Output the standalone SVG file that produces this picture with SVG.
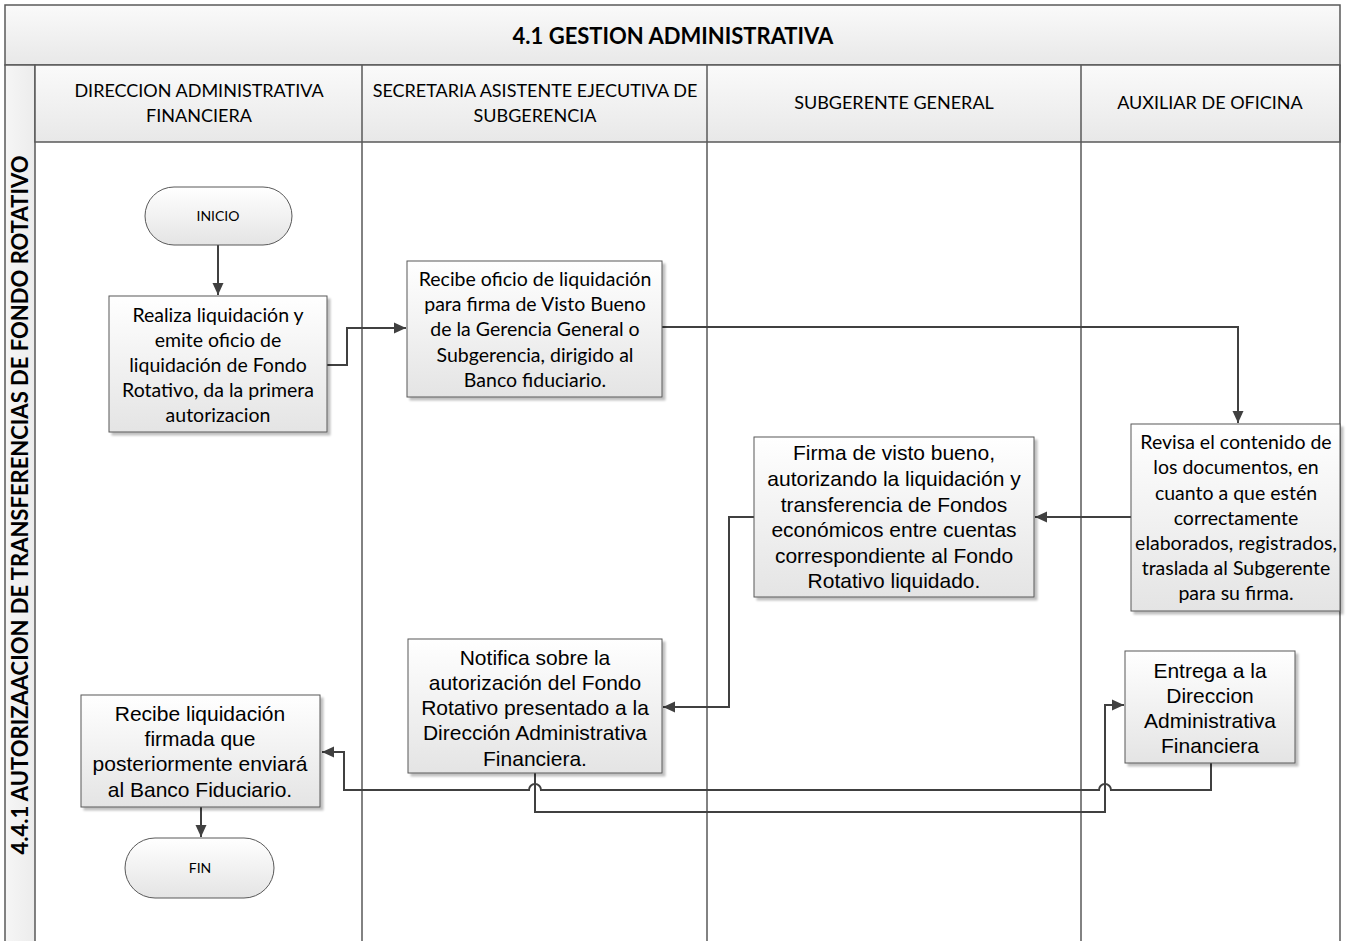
<svg xmlns="http://www.w3.org/2000/svg" width="1346" height="941" viewBox="0 0 1346 941">
<defs>
<linearGradient id="gbox" x1="0" y1="0" x2="0" y2="1">
<stop offset="0" stop-color="#ffffff"/>
<stop offset="1" stop-color="#e4e4e4"/>
</linearGradient>
<linearGradient id="ghead" x1="0" y1="0" x2="0" y2="1">
<stop offset="0" stop-color="#fafafa"/>
<stop offset="1" stop-color="#e8e8e8"/>
</linearGradient>
<linearGradient id="gside" x1="0" y1="0" x2="1" y2="0">
<stop offset="0" stop-color="#f6f6f6"/>
<stop offset="1" stop-color="#ececec"/>
</linearGradient>
<marker id="arr" viewBox="0 0 12 12" refX="12" refY="6" markerWidth="12" markerHeight="12" markerUnits="userSpaceOnUse" orient="auto">
<path d="M0,0.5 L12,6 L0,11.5 z" fill="#404040"/>
</marker>
<filter id="sh" x="-10%" y="-10%" width="130%" height="130%">
<feOffset dx="3" dy="3" in="SourceAlpha" result="o"/>
<feGaussianBlur in="o" stdDeviation="1.2" result="b"/>
<feComponentTransfer in="b" result="c"><feFuncA type="linear" slope="0.25"/></feComponentTransfer>
<feMerge><feMergeNode in="c"/><feMergeNode in="SourceGraphic"/></feMerge>
</filter>
</defs>
<style>
.lane{fill:none;stroke:#595959;stroke-width:1.5}
.box{fill:url(#gbox);stroke:#595959;stroke-width:1;filter:url(#sh)}
.term{fill:url(#gbox);stroke:#595959;stroke-width:1}
.cal{font-family:Lato,"Open Sans",sans-serif;font-size:19.5px;fill:#000;text-anchor:middle}
.ari{font-family:"Liberation Sans",Arial,sans-serif;font-size:21px;fill:#000;text-anchor:middle}
.hd{font-family:Lato,"Open Sans",sans-serif;font-size:18px;fill:#000;text-anchor:middle}
.ttl{font-family:Lato,"Open Sans",sans-serif;font-size:22px;font-weight:bold;fill:#000;text-anchor:middle}
.sm{font-family:Lato,"Open Sans",sans-serif;font-size:14px;fill:#000;text-anchor:middle}
.con{fill:none;stroke:#404040;stroke-width:2}
</style>
<rect width="1346" height="941" fill="#ffffff"/>
<g id="pool">
<rect x="5" y="5" width="1335" height="60" fill="url(#ghead)" stroke="#595959" stroke-width="1.5"/>
<text class="ttl" x="673" y="44">4.1 GESTION ADMINISTRATIVA</text>
<rect x="5" y="65" width="30" height="880" fill="url(#gside)" stroke="#595959" stroke-width="1.5"/>
<rect x="35" y="65" width="1305" height="77" fill="url(#ghead)" stroke="#595959" stroke-width="1.5"/>
<line class="lane" x1="1340" y1="65" x2="1340" y2="945"/>
<line class="lane" x1="362" y1="65" x2="362" y2="945"/>
<line class="lane" x1="707" y1="65" x2="707" y2="945"/>
<line class="lane" x1="1081" y1="65" x2="1081" y2="945"/>
<text class="hd" x="199" y="97">DIRECCION ADMINISTRATIVA</text>
<text class="hd" x="199" y="122">FINANCIERA</text>
<text class="hd" x="535" y="97">SECRETARIA ASISTENTE EJECUTIVA DE</text>
<text class="hd" x="535" y="122">SUBGERENCIA</text>
<text class="hd" x="894" y="109">SUBGERENTE GENERAL</text>
<text class="hd" x="1210" y="109">AUXILIAR DE OFICINA</text>
<text class="ttl" transform="translate(28,505) rotate(-90)">4.4.1 AUTORIZAACION DE TRANSFERENCIAS DE FONDO ROTATIVO</text>
</g>
<g id="connectors">
<path class="con" d="M218,245 V295" marker-end="url(#arr)"/>
<path class="con" d="M327,365 H347 V328 H406" marker-end="url(#arr)"/>
<path class="con" d="M662,327 H1238 V423" marker-end="url(#arr)"/>
<path class="con" d="M1131,517 H1035" marker-end="url(#arr)"/>
<path class="con" d="M754,517 H729 V707 H663" marker-end="url(#arr)"/>
<path class="con" d="M535,773 V812 H1105 V705 H1124" marker-end="url(#arr)"/>
<path class="con" d="M1211,763 V790 H1111 A6,6 0 0 0 1099,790 H541 A6,6 0 0 0 529,790 H344 V752 H322" marker-end="url(#arr)"/>
<path class="con" d="M201,807 V837" marker-end="url(#arr)"/>
</g>
<g id="n_inicio">
<rect class="term" x="145" y="187" width="147" height="58" rx="29"/>
<text class="sm" x="218" y="221">INICIO</text>
</g>
<g id="n_realiza">
<rect class="box" x="109" y="296" width="218" height="136"/>
<text class="cal"><tspan x="218" y="322">Realiza liquidación y</tspan><tspan x="218" y="347">emite oficio de</tspan><tspan x="218" y="372">liquidación de Fondo</tspan><tspan x="218" y="397">Rotativo, da la primera</tspan><tspan x="218" y="422">autorizacion</tspan></text>
</g>
<g id="n_recibe_oficio">
<rect class="box" x="407" y="261" width="255" height="136"/>
<text class="cal"><tspan x="535" y="286">Recibe oficio de liquidación</tspan><tspan x="535" y="311">para firma de Visto Bueno</tspan><tspan x="535" y="336">de la Gerencia General o</tspan><tspan x="535" y="362">Subgerencia, dirigido al</tspan><tspan x="535" y="387">Banco fiduciario.</tspan></text>
</g>
<g id="n_revisa">
<rect class="box" x="1131" y="424" width="209" height="187"/>
<text class="cal"><tspan x="1236" y="449">Revisa el contenido de</tspan><tspan x="1236" y="474">los documentos, en</tspan><tspan x="1236" y="500">cuanto a que estén</tspan><tspan x="1236" y="525">correctamente</tspan><tspan x="1236" y="550">elaborados, registrados,</tspan><tspan x="1236" y="575">traslada al Subgerente</tspan><tspan x="1236" y="600">para su firma.</tspan></text>
</g>
<g id="n_firma">
<rect class="box" x="754" y="437" width="280" height="160"/>
<text class="ari"><tspan x="894" y="460">Firma de visto bueno,</tspan><tspan x="894" y="486">autorizando la liquidación y</tspan><tspan x="894" y="512">transferencia de Fondos</tspan><tspan x="894" y="537">económicos entre cuentas</tspan><tspan x="894" y="563">correspondiente al Fondo</tspan><tspan x="894" y="588">Rotativo liquidado.</tspan></text>
</g>
<g id="n_notifica">
<rect class="box" x="408" y="639" width="254" height="134"/>
<text class="ari"><tspan x="535" y="665">Notifica sobre la</tspan><tspan x="535" y="690">autorización del Fondo</tspan><tspan x="535" y="715">Rotativo presentado a la</tspan><tspan x="535" y="740">Dirección Administrativa</tspan><tspan x="535" y="766">Financiera.</tspan></text>
</g>
<g id="n_entrega">
<rect class="box" x="1125" y="651" width="170" height="112"/>
<text class="ari"><tspan x="1210" y="678">Entrega a la</tspan><tspan x="1210" y="703">Direccion</tspan><tspan x="1210" y="728">Administrativa</tspan><tspan x="1210" y="753">Financiera</tspan></text>
</g>
<g id="n_recibe_firmada">
<rect class="box" x="81" y="695" width="239" height="112"/>
<text class="ari"><tspan x="200" y="721">Recibe liquidación</tspan><tspan x="200" y="746">firmada que</tspan><tspan x="200" y="771">posteriormente enviará</tspan><tspan x="200" y="797">al Banco Fiduciario.</tspan></text>
</g>
<g id="n_fin">
<rect class="term" x="125" y="838" width="149" height="60" rx="30"/>
<text class="sm" x="200" y="873">FIN</text>
</g>
</svg>
